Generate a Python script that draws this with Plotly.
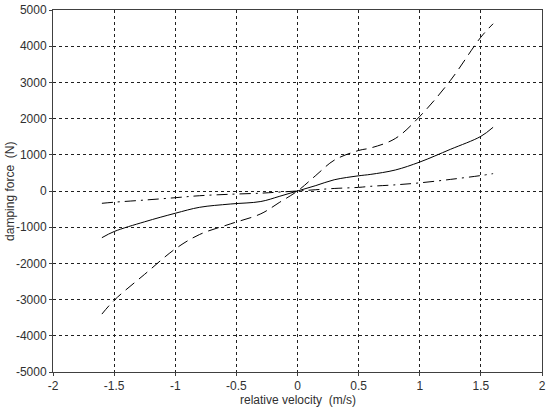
import plotly.graph_objects as go

# relative velocity (m/s)
velocidad = [-1.6, -1.5, -1.25, -1.0, -0.8, -0.55, -0.3, -0.15, 0.0,
             0.15, 0.3, 0.5, 0.6, 0.8, 1.0, 1.25, 1.5, 1.6]

# damping force (N) for the three curves
fuerza_solida = [-1290, -1120, -850, -615, -450, -360, -290, -150, 0,
                 150, 310, 420, 460, 580, 800, 1150, 1510, 1760]
fuerza_guiones = [-3400, -3020, -2300, -1600, -1200, -910, -630, -320, 0,
                  430, 850, 1120, 1190, 1450, 2060, 3050, 4250, 4620]
fuerza_punto_raya = [-340, -310, -250, -185, -130, -90, -60, -30, 0,
                     35, 70, 100, 130, 170, 225, 320, 427, 480]

ticks_x = [-2, -1.5, -1, -0.5, 0, 0.5, 1, 1.5, 2]
ticks_y = list(range(-5000, 5001, 1000))

color_linea = "#000000"
color_texto = "#303030"

fig = go.Figure()
fig.add_trace(go.Scatter(x=velocidad, y=fuerza_solida, mode="lines", line_shape="spline",
                         line=dict(color=color_linea, width=1)))
fig.add_trace(go.Scatter(x=velocidad, y=fuerza_guiones, mode="lines", line_shape="spline",
                         line=dict(color=color_linea, width=1, dash="11px,6px")))
fig.add_trace(go.Scatter(x=velocidad, y=fuerza_punto_raya, mode="lines", line_shape="spline",
                         line=dict(color=color_linea, width=1, dash="11px,5px,2px,5px")))

eje = dict(
    showline=True, linecolor="#404040", linewidth=1, mirror=True,
    showgrid=True, gridcolor="#202020", gridwidth=1, griddash="dot",
    zeroline=False, ticks="outside", ticklen=3, tickcolor="#404040",
    tickfont=dict(size=12, color=color_texto), automargin=False,
)

fig.update_xaxes(eje, range=[-2, 2], tickvals=ticks_x, ticktext=[f"{t:g}" for t in ticks_x])
fig.update_yaxes(eje, range=[-5000, 5000], tickvals=ticks_y, ticktext=[str(t) for t in ticks_y])

fig.add_annotation(text="relative velocity  (m/s)", xref="paper", yref="paper",
                   x=0.5, y=-0.078, yanchor="middle", showarrow=False,
                   font=dict(size=12, color=color_texto))
fig.add_annotation(text="damping force  (N)", xref="paper", yref="paper",
                   x=-0.088, y=0.5, xanchor="center", textangle=-90, showarrow=False,
                   font=dict(size=12, color=color_texto))

fig.update_layout(
    width=550, height=408,
    margin=dict(l=53, r=8, t=10, b=36),
    plot_bgcolor="#FFFFFF", paper_bgcolor="#FFFFFF",
    font=dict(family="Liberation Sans, Arial", color=color_texto),
    showlegend=False,
)

fig.write_html("out.html", config={"displayModeBar": False},
               post_script="document.body.style.margin='0';")
